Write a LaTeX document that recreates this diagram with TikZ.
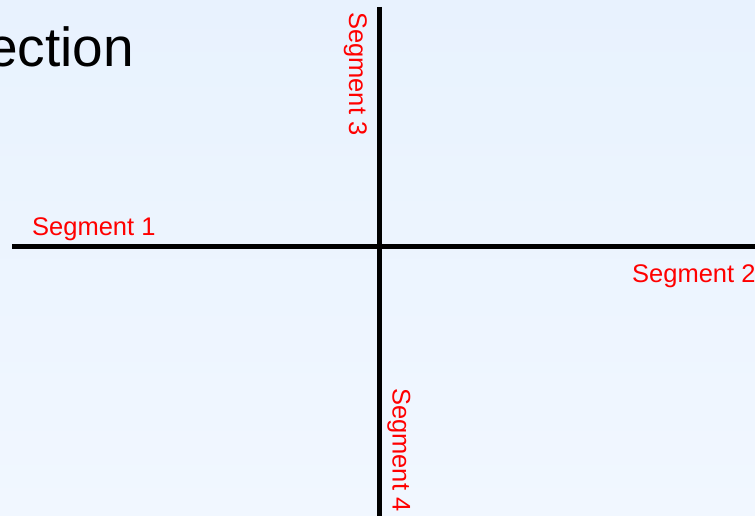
\documentclass[tikz,border=0pt]{standalone}
\usepackage{fontspec}
\setmainfont{Liberation Sans}
\definecolor{bgtop}{RGB}{232,242,254}
\definecolor{bgbot}{RGB}{241,247,255}
\begin{document}
\begin{tikzpicture}[x=1pt,y=-1pt,
  axis/.style={line width=5pt,black},
  seglabel/.style={text=red,inner sep=0pt,font=\fontsize{25.5}{30}\selectfont},
  titletext/.style={text=black,inner sep=0pt,font=\fontsize{55}{64}\selectfont}]
\useasboundingbox (0,0) rectangle (755,516);
\shade[top color=bgtop,bottom color=bgbot] (0,0) rectangle (755,516);
\coordinate (hl) at (12,246.5);
\coordinate (hr) at (755,246.5);
\coordinate (vt) at (379.5,7);
\coordinate (vb) at (379.5,516);
\draw[axis] (hl) -- (hr);
\draw[axis] (vt) -- (vb);
\node[titletext,anchor=base east] (title) at (134,67) {ection};
\node[seglabel,anchor=base west] (s1) at (32,235) {Segment 1};
\node[seglabel,anchor=base west] (s2) at (632,282) {Segment 2};
\node[seglabel,anchor=base west,rotate=-90] (s3) at (349,12) {Segment 3};
\node[seglabel,anchor=base west,rotate=-90] (s4) at (392.5,388) {Segment 4};
\end{tikzpicture}
\end{document}
